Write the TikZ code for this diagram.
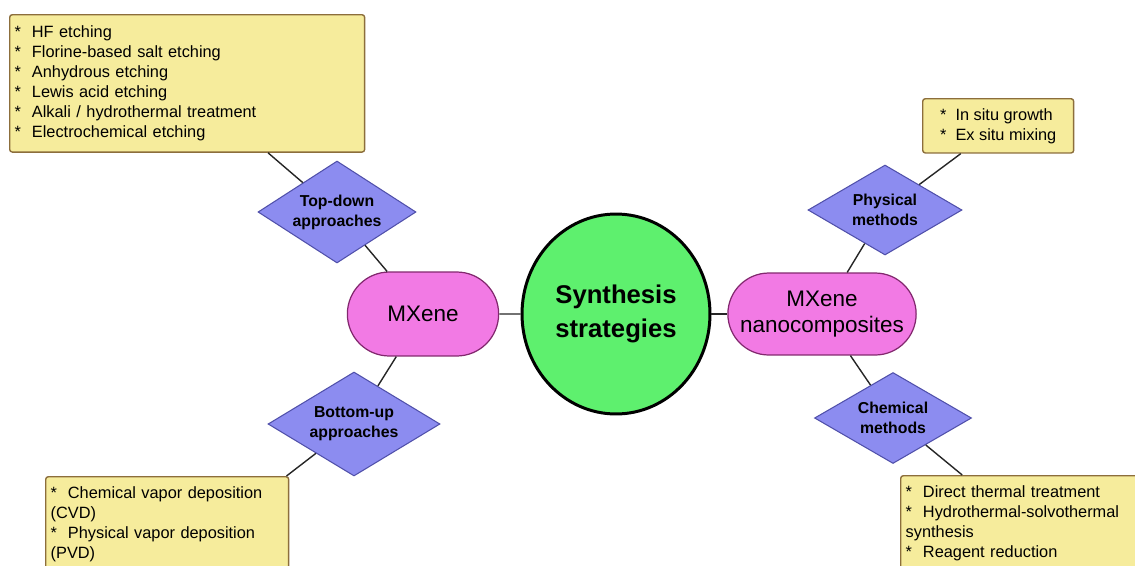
\documentclass[tikz,border=0pt]{standalone}
\usepackage{fontspec}
\setmainfont{Liberation Sans}
\usepackage{tikz}
\usetikzlibrary{shapes.geometric,shapes.misc}

\definecolor{notefill}{RGB}{246,236,156}
\definecolor{notedraw}{RGB}{140,110,60}
\definecolor{methfill}{RGB}{140,140,240}
\definecolor{methdraw}{RGB}{80,80,170}
\definecolor{pillfill}{RGB}{242,122,228}
\definecolor{pilldraw}{RGB}{130,40,110}
\definecolor{hubfill}{RGB}{94,240,110}

\begin{document}
\begin{tikzpicture}[x=0.02cm,y=-0.02cm,
  note/.style={draw=notedraw, fill=notefill, line width=0.8pt, rounded corners=1.5pt,
    anchor=north west, align=left, inner xsep=0.1cm, inner ysep=0.22cm,
    font=\fontsize{9.3}{11.4}\selectfont},
  method/.style={diamond, draw=methdraw, fill=methfill, line width=0.6pt, aspect=1.6,
    inner sep=0pt, align=center, font=\fontsize{9}{11.4}\selectfont\bfseries},
  pill/.style={rounded rectangle, draw=pilldraw, fill=pillfill, line width=0.7pt,
    align=center, font=\fontsize{12.8}{15.2}\selectfont},
  link/.style={line width=0.8pt, black!85}]

\useasboundingbox (0,0) rectangle (1135,565);

% centre
\node[ellipse, draw=black, line width=1.7pt, fill=hubfill, minimum width=3.76cm,
  minimum height=4cm, align=center, font=\fontsize{14.6}{19.5}\selectfont\bfseries]
  (syn) at (616,314) {Synthesis\\strategies};

% MXene side
\node[pill, minimum width=3.26cm, minimum height=1.68cm] (mx) at (423,314) {MXene};
\node[method, minimum width=3.16cm, minimum height=2.04cm] (td) at (337,212) {Top-down\\approaches};
\node[method, minimum width=3.44cm, minimum height=2.08cm] (bu) at (354,424) {Bottom-up\\approaches};
\node[note, text width=6.9cm] (boxtl) at (9,14)
  {{*}~ HF etching\\
   {*}~ Florine-based salt etching\\
   {*}~ Anhydrous etching\\
   {*}~ Lewis acid etching\\
   {*}~ Alkali / hydrothermal treatment\\
   {*}~ Electrochemical etching};
\node[note, text width=4.66cm, inner ysep=0.14cm, minimum height=1.9cm] (boxbl) at (45,476)
  {{*}~ Chemical vapor deposition\\
   (CVD)\\
   {*}~ Physical vapor deposition\\
   (PVD)};

% nanocomposites side
\node[pill, minimum width=4cm, minimum height=1.64cm] (mxn) at (822,314) {MXene\\nanocomposites};
\node[method, minimum width=3.08cm, minimum height=1.8cm] (phys) at (885,210) {Physical\\methods};
\node[method, minimum width=3.14cm, minimum height=1.82cm] (chem) at (893,418) {Chemical\\methods};
\node[note, minimum width=3.02cm, inner ysep=0.19cm] (boxtr) at (922,98)
  {{*}~ In situ growth\\
   {*}~ Ex situ mixing};
\node[note, text width=4.6cm, inner ysep=0.14cm, minimum height=1.9cm] (boxbr) at (900,475)
  {{*}~ Direct thermal treatment\\
   {*}~ Hydrothermal-solvothermal\\
   synthesis\\
   {*}~ Reagent reduction};

% links
\draw[link] (boxtl) -- (td);
\draw[link] (td) -- (mx);
\draw[link] (mx) -- (bu);
\draw[link] (bu) -- (boxbl.22);
\draw[link] (mx) -- (syn);
\draw[link] (syn) -- (mxn);
\draw[link] (mxn) -- (phys);
\draw[link] (phys) -- (boxtr);
\draw[link] (mxn) -- (chem);
\draw[link] (chem) -- (boxbr);
\end{tikzpicture}
\end{document}
